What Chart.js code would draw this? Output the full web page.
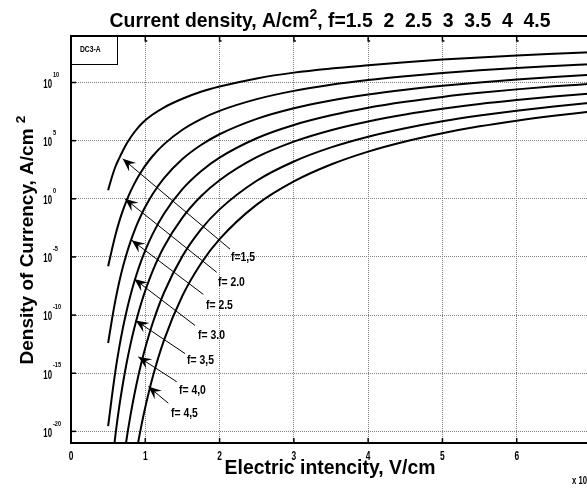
<!DOCTYPE html>
<html><head><meta charset="utf-8">
<script src="https://cdn.jsdelivr.net/npm/chart.js@4.4.1/dist/chart.umd.min.js"></script>
<style>
html,body{margin:0;padding:0;overflow:hidden;background:#fff;width:587px;height:490px}
#wrap{position:absolute;left:0;top:0;width:600px;height:490px}
canvas{display:block}
</style>
</head><body><div id="wrap"><canvas id="c" width="600" height="490" style="width:600px;height:490px"></canvas></div>
<script>
// ---- data (electric intensity in units of x10^7 V/cm; current density as log10 exponent) ----
const xValues = [0.5,0.55,0.6,0.65,0.7,0.75,0.8,0.85,0.9,0.95,1.0,1.1,1.25,1.5,1.75,2,2.5,3,3.5,4,4.5,5,5.5,6,6.5,7];
const seriesNames = ["f=1.5","f=2.0","f=2.5","f=3.0","f=3.5","f=4.0","f=4.5"];
const expF15 = [0.74,1.85,2.8,3.5,4.15,4.75,5.25,5.7,6.1,6.45,6.75,7.25,7.85,8.6,9.2,9.65,10.35,10.85,11.2,11.48,11.74,11.97,12.16,12.33,12.47,12.6];
const expF20 = [-5.8,-4.39,-3.07,-1.94,-0.98,-0.14,0.61,1.26,1.85,2.37,2.85,3.68,4.68,5.94,6.86,7.56,8.57,9.28,9.80,10.21,10.54,10.82,11.05,11.25,11.42,11.58];
const expF25 = [-12.4,-10.43,-8.65,-7.13,-5.83,-4.70,-3.70,-2.82,-2.03,-1.33,-0.69,0.42,1.76,3.42,4.63,5.55,6.87,7.78,8.45,8.97,9.38,9.72,10.01,10.26,10.47,10.66];
const expF30 = [-19.55,-17.03,-14.71,-12.75,-11.07,-9.61,-8.32,-7.18,-6.17,-5.26,-4.44,-3.02,-1.30,0.83,2.37,3.54,5.21,6.35,7.18,7.83,8.34,8.76,9.11,9.41,9.67,9.89];
const expF35 = [null,-22.98,-20.21,-17.85,-15.84,-14.08,-12.54,-11.18,-9.97,-8.88,-7.9,-6.2,-4.15,-1.62,0.22,1.60,3.58,4.92,5.90,6.65,7.25,7.74,8.15,8.49,8.79,9.05];
const expF40 = [null,null,null,null,-22.81,-20.59,-18.65,-16.94,-15.41,-14.04,-12.81,-10.68,-8.10,-4.93,-2.63,-0.91,1.55,3.21,4.42,5.34,6.07,6.67,7.16,7.58,7.94,8.25];
const expF45 = [null,null,null,null,null,null,-25.04,-22.95,-21.09,-19.42,-17.92,-15.32,-12.19,-8.34,-5.56,-3.47,-0.50,1.50,2.95,4.06,4.93,5.64,6.23,6.72,7.14,7.51];
const allExps = [expF15,expF20,expF25,expF30,expF35,expF40,expF45];

const xTicks = [0,1,2,3,4,5,6,7];
const yTickExps = [10,5,0,-5,-10,-15,-20];

// annotation arrows (data coordinates: x, log10 y)
const arrowLabels = ["f=1,5","f= 2.0","f= 2.5","f= 3.0","f= 3,5","f= 4,0","f= 4,5"];
const arrowTipX = [0.696,0.727,0.817,0.852,0.871,0.906,1.041];
const arrowTipExp = [3.44,0.0,-3.56,-6.90,-10.46,-13.59,-16.15];
const arrowTailX = [2.141,1.962,1.781,1.669,1.535,1.423,1.310];
const arrowTailExp = [-4.33,-6.32,-8.22,-10.89,-13.31,-15.73,-17.58];
const labelX = [2.154,1.979,1.817,1.710,1.562,1.454,1.346];
const labelExp = [-5.02,-7.15,-9.21,-11.77,-13.91,-16.47,-18.44];

const titleParts = [{t:'Current density, A/cm'},{t:'2',sup:true},{t:', f=1.5  2  2.5  3  3.5  4  4.5'}];
const yTitleParts = [{t:'Density of Currency, A/cm '},{t:'2',sup:true}];
const xTitleText = 'Electric intencity, V/cm';
const legendText = 'DC3-A';
const xMultText = 'x 10';
const xMultExp = '7';

// ---- helpers ----
const SANS = '"Liberation Sans", Arial, sans-serif';
function partsWidth(ctx, parts, size){
  let w=0; for(const p of parts){ ctx.font='bold '+(p.sup?size*0.72:size)+'px '+SANS; w+=ctx.measureText(p.t).width; } return w;
}
function fitSize(ctx, parts, target){ return 20*target/partsWidth(ctx, parts, 20); }
function drawParts(ctx, parts, size, cx, baseY){
  const w = partsWidth(ctx, parts, size); let x = cx - w/2;
  ctx.textAlign='left'; ctx.textBaseline='alphabetic';
  for(const p of parts){
    const s = p.sup?size*0.72:size; ctx.font='bold '+s+'px '+SANS;
    ctx.fillText(p.t, x, p.sup? baseY-size*0.42 : baseY); x+=ctx.measureText(p.t).width;
  }
}
function condText(ctx, txt, x, y, size, align, sx){
  ctx.save(); ctx.font='bold '+size+'px '+SANS; ctx.textBaseline='middle'; ctx.textAlign='left';
  const w = ctx.measureText(txt).width*sx;
  const x0 = align==='right'? x-w : (align==='center'? x-w/2 : x);
  ctx.translate(x0,y); ctx.scale(sx,1); ctx.fillText(txt,0,0); ctx.restore();
}
function arrow(ctx,x1,y1,x2,y2){
  ctx.save(); ctx.strokeStyle='#000'; ctx.fillStyle='#000'; ctx.lineWidth=1;
  ctx.beginPath(); ctx.moveTo(x1,y1); ctx.lineTo(x2,y2); ctx.stroke();
  const a=Math.atan2(y2-y1,x2-x1), ux=Math.cos(a), uy=Math.sin(a), px=-uy, py=ux;
  const L=13,W=5.5,N=8;
  ctx.beginPath(); ctx.moveTo(x2,y2);
  ctx.lineTo(x2-ux*L+px*W, y2-uy*L+py*W);
  ctx.lineTo(x2-ux*N, y2-uy*N);
  ctx.lineTo(x2-ux*L-px*W, y2-uy*L-py*W);
  ctx.closePath(); ctx.fill(); ctx.restore();
}

const decor = {
  id:'decor',
  afterDatasetsDraw(chart){
    const ctx=chart.ctx, xs=chart.scales.x, ys=chart.scales.y, ca=chart.chartArea;
    ctx.save();
    // frame top
    ctx.strokeStyle='#000'; ctx.lineWidth=2;
    ctx.beginPath(); ctx.moveTo(ca.left, ca.top); ctx.lineTo(ca.right, ca.top); ctx.lineTo(ca.right, ca.bottom); ctx.stroke();
    // inner tick marks
    ctx.lineWidth=1.5;
    for(const v of xTicks){ if(v===0) continue; const px=xs.getPixelForValue(v);
      ctx.beginPath(); ctx.moveTo(px,ca.bottom); ctx.lineTo(px,ca.bottom-5); ctx.stroke();
      ctx.beginPath(); ctx.moveTo(px,ca.top); ctx.lineTo(px,ca.top+5); ctx.lineTo(px+2,ca.top+5); ctx.stroke(); }
    for(const e of yTickExps){ const py=ys.getPixelForValue(Math.pow(10,e));
      ctx.beginPath(); ctx.moveTo(ca.left,py); ctx.lineTo(ca.left+5,py); ctx.stroke(); }
    // arrows + labels
    ctx.fillStyle='#000';
    for(let i=0;i<arrowLabels.length;i++){
      arrow(ctx, xs.getPixelForValue(arrowTailX[i]), ys.getPixelForValue(Math.pow(10,arrowTailExp[i])),
                 xs.getPixelForValue(arrowTipX[i]), ys.getPixelForValue(Math.pow(10,arrowTipExp[i])));
      condText(ctx, arrowLabels[i], xs.getPixelForValue(labelX[i]), ys.getPixelForValue(Math.pow(10,labelExp[i])), 13, 'left', 0.8);
    }
    // legend box
    ctx.fillStyle='#fff'; ctx.fillRect(ca.left, ca.top, 46, 28);
    ctx.strokeStyle='#000'; ctx.lineWidth=1; ctx.strokeRect(ca.left+0.5, ca.top+0.5, 46, 28);
    ctx.fillStyle='#000'; condText(ctx, legendText, ca.left+9, ca.top+14, 9, 'left', 0.75);
    // tick labels
    for(const v of xTicks){ condText(ctx, String(v), xs.getPixelForValue(v), ca.bottom+14, 12, 'center', 0.7); }
    for(const e of yTickExps){ const py=ys.getPixelForValue(Math.pow(10,e));
      condText(ctx, '10', 52, py+2, 12, 'right', 0.65);
      condText(ctx, String(e), 53, py-8, 8, 'left', 0.7); }
    condText(ctx, xMultText, 572, 481, 11, 'left', 0.7);
    condText(ctx, xMultExp, 590, 474, 8, 'left', 0.7);
    // titles
    ctx.fillStyle='#000';
    const ts = fitSize(ctx, titleParts, 441); drawParts(ctx, titleParts, ts, 330, 27);
    const xsz = fitSize(ctx, [{t:xTitleText}], 211); drawParts(ctx, [{t:xTitleText}], xsz, 330, 474);
    const ysz = fitSize(ctx, yTitleParts, 249);
    ctx.save(); ctx.translate(33, 240); ctx.rotate(-Math.PI/2); drawParts(ctx, yTitleParts, ysz, 0, 0); ctx.restore();
    ctx.restore();
  }
};

const datasets = allExps.map((arr, k) => ({
  label: seriesNames[k],
  data: xValues.map((x,i)=> arr[i]===null ? null : {x:x, y:Math.pow(10,arr[i])}).filter(p=>p!==null),
  borderColor:'#000', borderWidth:2, pointRadius:0, fill:false,
  cubicInterpolationMode:'monotone'
}));

new Chart(document.getElementById('c'), {
  type:'line',
  data:{datasets},
  options:{
    responsive:false, animation:false, devicePixelRatio:1,
    layout:{padding:{left:0, top:36, right:9, bottom:0}},
    plugins:{legend:{display:false}, tooltip:{enabled:false}, title:{display:false}},
    scales:{
      x:{type:'linear', min:0, max:7,
         ticks:{display:false, stepSize:1},
         afterBuildTicks:(s)=>{ s.ticks = xTicks.map(v=>({value:v})); },
         afterFit:(s)=>{ s.height = 47; },
         grid:{color:'#7f7f7f', lineWidth:1, drawTicks:false},
         border:{display:true, color:'#000', width:2, dash:[1,1]}},
      y:{type:'logarithmic', min:1e-21, max:1e14,
         ticks:{display:false},
         afterBuildTicks:(s)=>{ s.ticks = yTickExps.map(e=>({value:Math.pow(10,e)})); },
         afterFit:(s)=>{ s.width = 71; },
         grid:{color:'#7f7f7f', lineWidth:1, drawTicks:false},
         border:{display:true, color:'#000', width:2, dash:[1,1]}}
    }
  },
  plugins:[decor]
});
</script></body></html>
